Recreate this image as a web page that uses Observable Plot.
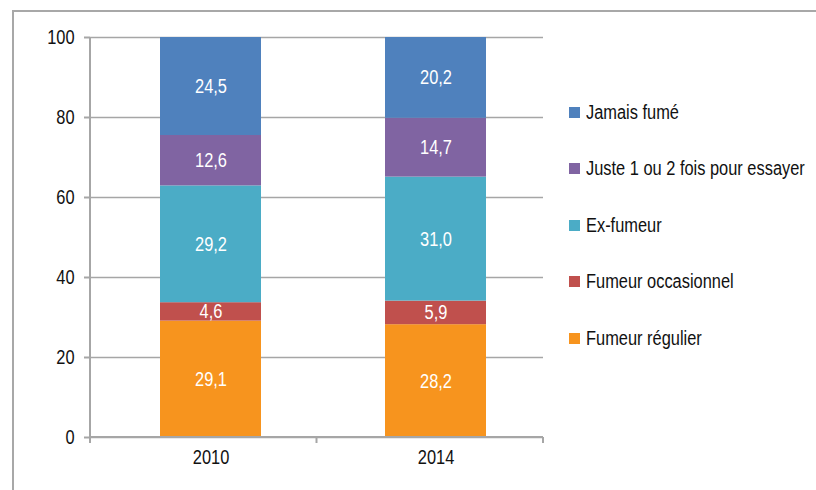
<!DOCTYPE html>
<html>
<head>
<meta charset="utf-8">
<script src="https://cdn.jsdelivr.net/npm/d3@7"></script>
<script src="https://cdn.jsdelivr.net/npm/@observablehq/plot@0.6"></script>
<style>
  html, body { margin: 0; padding: 0; background: #fff; overflow: hidden; width: 816px; height: 490px; }
  #wrap { position: relative; width: 816px; height: 490px; font-family: "Liberation Sans", Arial, sans-serif; }
  #frame { position: absolute; left: 12px; top: 10px; width: 900px; height: 600px; border-left: 2px solid #a8a8a8; border-top: 2px solid #a8a8a8; box-sizing: border-box; }
  #chart { position: absolute; left: 0; top: 0; }
  #legend { position: absolute; left: 569px; top: 0; font-size: 20px; color: #111; }
  .item { position: absolute; left: 0; white-space: nowrap; display: flex; align-items: center; height: 24px; }
  .sw { width: 11px; height: 11px; margin-right: 6px; flex: none; }
  .lt { display: inline-block; transform: scaleX(0.82); transform-origin: left center; }
</style>
</head>
<body>
<div id="wrap"><div id="frame"></div><div id="chart"></div><div id="legend"></div></div>
<script>
// Data (bottom to top of the stack)
const years = ["2010", "2014"];
const categories = ["Fumeur régulier", "Fumeur occasionnel", "Ex-fumeur", "Juste 1 ou 2 fois pour essayer", "Jamais fumé"];
const values2010 = [29.1, 4.6, 29.2, 12.6, 24.5];
const values2014 = [28.2, 5.9, 31.0, 14.7, 20.2];
const colors = ["#F7941E", "#C0504D", "#4BACC6", "#8064A2", "#4F81BD"];
const yTicks = [0, 20, 40, 60, 80, 100];
const legendOrder = ["Jamais fumé", "Juste 1 ou 2 fois pour essayer", "Ex-fumeur", "Fumeur occasionnel", "Fumeur régulier"];

const series = [values2010, values2014];
const data = [];
years.forEach((yr, i) => categories.forEach((c, j) => data.push({year: yr, cat: c, value: series[i][j]})));

const fmt = v => v.toFixed(1).replace(".", ",");
const gray = "#a6a6a6";
const squeeze = 0.82;

const axisLines = (index, scales, values, dim) => {
  const g = d3.create("svg:g").attr("stroke", gray).attr("stroke-width", 2).attr("fill", "none");
  const x0 = dim.marginLeft, x1 = dim.width - dim.marginRight;
  const yb = dim.height - dim.marginBottom, yt = dim.marginTop;
  g.append("line").attr("x1", x0).attr("x2", x0).attr("y1", yt).attr("y2", yb + 6);
  g.append("line").attr("x1", x0).attr("x2", x1).attr("y1", yb).attr("y2", yb);
  [ (x0 + x1) / 2, x1 ].forEach(x => g.append("line").attr("x1", x).attr("x2", x).attr("y1", yb).attr("y2", yb + 6));
  return g.node();
};

const chart = Plot.plot({
  width: 816,
  height: 490,
  marginLeft: 90,
  marginRight: 273,
  marginTop: 37,
  marginBottom: 53,
  style: { fontFamily: '"Liberation Sans", Arial, sans-serif', fontSize: "20px", background: "transparent", color: "#111" },
  x: { domain: years, paddingInner: 0.551, paddingOuter: 0.282, align: 0.551, label: null },
  y: { domain: [0, 100], label: null },
  color: { domain: categories, range: colors },
  marks: [
    Plot.gridY(yTicks, { stroke: gray, strokeOpacity: 1, strokeWidth: 1.5 }),
    Plot.barY(data, Plot.stackY({ x: "year", y: "value", z: "cat", fill: "cat", order: categories })),
    Plot.text(data, Plot.stackY({ x: "year", y: "value", z: "cat", order: categories, text: d => fmt(d.value), fill: "white", fontSize: 20 })),
    Plot.axisY({ ticks: yTicks, tickSize: 6, tickPadding: 10, stroke: gray, strokeWidth: 2, fill: "#111", fontSize: 20 }),
    Plot.axisX({ tickSize: 0, tickPadding: 12, fill: "#111", fontSize: 20 }),
    axisLines
  ]
});
document.getElementById("chart").appendChild(chart);

// Condense SVG text horizontally (narrow face not installed)
chart.querySelectorAll("text").forEach(t => {
  const len = t.getComputedTextLength();
  if (len > 0) {
    t.setAttribute("textLength", (len * squeeze).toFixed(2));
    t.setAttribute("lengthAdjust", "spacingAndGlyphs");
  }
});

// Legend
const legend = document.getElementById("legend");
legendOrder.forEach((c, i) => {
  const it = document.createElement("div");
  it.className = "item";
  it.style.top = (112 - 12 + i * 56.5) + "px";
  const sw = document.createElement("span");
  sw.className = "sw";
  sw.style.background = colors[categories.indexOf(c)];
  const t = document.createElement("span");
  t.className = "lt";
  t.textContent = c;
  it.appendChild(sw); it.appendChild(t);
  legend.appendChild(it);
});
</script>
</body>
</html>
